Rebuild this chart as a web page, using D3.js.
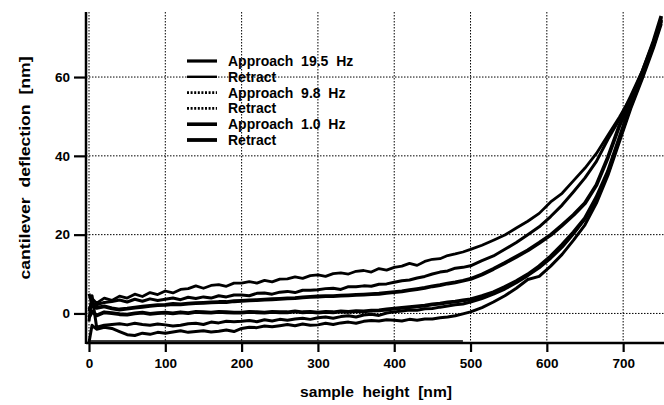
<!DOCTYPE html>
<html><head><meta charset="utf-8">
<script src="https://cdn.jsdelivr.net/npm/d3@7"></script>
<style>body{margin:0;background:#fff}svg{display:block}</style>
</head><body>
<svg id="c" width="664" height="405"></svg>
<script>
// ---- data ----
const xs = [0,4,10,20,30,40,50,60,70,80,90,100,110,120,130,140,150,160,170,180,190,200,210,220,230,240,250,260,270,280,290,300,310,320,330,340,350,360,370,380,390,400,410,420,430,440,450,460,470,480,490,500,515,530,545,560,575,590,605,620,635,650,665,680,695,710,725,740,750];

const topCurve = [0.5,3.8,2.6,3.9,3.3,4.4,3.9,4.9,4.3,5.3,4.8,5.7,5.2,6.1,6.3,7.0,6.4,7.1,7.3,6.9,7.7,7.7,8.1,7.7,8.4,8.0,8.7,8.8,9.3,8.9,9.6,9.8,9.4,10.1,10.3,10.0,10.7,10.9,10.5,11.4,11.0,11.7,12.0,12.7,12.2,13.2,13.75,13.9,14.7,15.1,15.6,16.25,17.3,18.6,19.9,21.7,23.4,25.4,28.3,30.5,33.7,36.9,40.6,45.2,49.8,54.8,61,68.5,74.5];
const secondCurve = [5.0,2.4,2.2,2.8,3.0,3.4,2.9,3.6,3.1,3.7,3.3,3.6,3.9,3.5,4.1,3.8,4.2,3.9,4.5,4.2,4.7,4.7,4.5,5.1,5.2,4.9,5.4,5.6,5.3,5.9,5.9,6.0,6.3,6.4,6.1,6.8,6.8,7.0,6.9,7.4,7.5,7.9,8.3,8.5,9.0,9.4,10.0,10.5,10.8,11.5,11.7,12.1,13.4,14.6,16.3,18.0,20.0,22.0,24.6,27.5,30.9,34.4,38.6,44.2,49.2,55.2,61.5,69,75];
const thirdCurve = [1.0,2.0,1.4,1.8,1.3,1.0,1.2,1.5,1.7,1.9,2.1,2.2,2.4,2.3,2.5,2.6,2.7,2.8,2.9,2.9,3.1,3.2,3.3,3.4,3.5,3.6,3.7,3.8,3.9,4.1,4.2,4.3,4.4,4.4,4.5,4.6,4.7,4.8,4.9,5.0,5.2,5.4,5.6,5.9,6.2,6.5,6.9,7.2,7.6,7.9,8.3,8.75,9.9,11.3,12.8,14.4,16.0,17.9,19.9,22.4,25.0,28.0,32.6,39.6,47.6,54.2,61.2,69.2,75.5];
const fourthCurve = [-1.0,0.5,-0.5,0.3,0.1,-0.2,-0.3,0.0,0.2,-0.1,0.1,0.2,0.0,0.3,0.1,0.4,0.3,0.2,0.4,0.3,0.2,0.2,0.4,0.3,0.2,0.4,0.3,0.3,0.5,0.3,0.4,0.2,0.4,0.3,0.5,0.4,0.6,0.5,0.7,0.8,1.0,1.2,1.4,1.6,1.8,2.0,2.3,2.5,2.8,3.0,3.3,3.6,4.4,5.4,6.7,8.2,9.9,12.0,14.5,17.4,20.6,24.2,29.5,36.0,44.5,53.0,60.5,68.5,74.5];
const fifthCurve = [-2.0,4.5,-3.5,-3.0,-2.8,-2.6,-2.9,-2.5,-2.8,-3.0,-2.7,-2.9,-3.2,-3.0,-2.6,-2.5,-2.8,-2.2,-2.4,-2.0,-2.1,-2.0,-1.8,-2.1,-1.6,-1.9,-1.5,-1.7,-1.4,-1.2,-1.5,-1.1,-0.9,-1.2,-0.8,-0.6,-0.9,-0.4,-0.2,-0.5,0.1,0.4,0.6,0.9,0.8,1.2,1.25,1.6,1.9,2.2,2.4,2.9,3.8,4.9,6.2,7.8,9.6,11.6,14.0,16.8,20.2,24.0,29.2,35.5,44.0,52.5,60.0,68.0,74.0];
const bottomCurve = [-7.4,-3.0,-4.0,-3.5,-3.8,-4.6,-5.4,-5.6,-5.0,-5.3,-4.8,-5.0,-4.7,-4.4,-4.8,-4.6,-4.4,-4.7,-4.5,-4.2,-4.6,-3.8,-3.5,-3.6,-3.2,-3.4,-3.1,-2.8,-3.1,-2.7,-3.0,-2.9,-2.5,-2.8,-2.4,-2.2,-2.5,-2.0,-1.8,-1.9,-1.6,-1.7,-1.9,-1.5,-1.7,-1.4,-1.4,-1.1,-0.9,-0.6,-0.1,0.4,1.5,2.9,4.5,6.4,8.6,9.4,12.0,15.0,18.6,22.5,28.0,35.0,43.5,52.0,59.5,67.5,73.5];
// off-scale retract trace lying along the lower edge of the plot
const offscaleX = [0, 490];
const offscaleY = [-7.0, -7.0];

const seriesNames = ["Approach  19.5  Hz","Retract","Approach  9.8  Hz","Retract","Approach  1.0  Hz","Retract"];
const seriesValues = [secondCurve, topCurve, fifthCurve, bottomCurve, thirdCurve, fourthCurve];
const seriesWidths = [3.0, 2.8, 3.0, 3.0, 3.8, 3.8];
const legendDash = [null, null, "2,1.6", "2,1.6", null, null];
const legendWidths = [3.2, 2.4, 2.8, 2.8, 3.6, 3.8];

const xTicks = [0,100,200,300,400,500,600,700];
const yTicks = [0,20,40,60];

// ---- chart ----
const svg = d3.select("#c");
const x = d3.scaleLinear().domain([0,750]).range([89,661.3]);
const y = d3.scaleLinear().domain([-7.5,76]).range([343,14]);
const font = "'Liberation Sans', Arial, Helvetica, sans-serif";

svg.append("defs").append("clipPath").attr("id","pc")
  .append("rect").attr("x",86).attr("y",12).attr("width",578).attr("height",331);

// grid
const grid = svg.append("g").attr("stroke","#000").attr("stroke-width",1).attr("stroke-dasharray","1.5,1.5");
grid.selectAll("line.v").data(xTicks).join("line").attr("class","v")
  .attr("x1",d=>x(d)).attr("x2",d=>x(d)).attr("y1",12).attr("y2",343);
grid.selectAll("line.h").data(yTicks).join("line").attr("class","h")
  .attr("x1",86).attr("x2",664).attr("y1",d=>y(d)).attr("y2",d=>y(d));

// curves
const line = d3.line().x((d,i)=>x(xs[i])).y(d=>y(d)).curve(d3.curveLinear);
const cg = svg.append("g").attr("clip-path","url(#pc)");
seriesValues.forEach((vals,k)=>{
  cg.append("path").datum(vals).attr("d",line).attr("fill","none")
    .attr("stroke","#000").attr("stroke-width",seriesWidths[k]).attr("stroke-linejoin","round");
});
cg.append("path").datum(offscaleY)
  .attr("d",d3.line().x((d,i)=>x(offscaleX[i])).y(d=>y(d)))
  .attr("fill","none").attr("stroke","#000").attr("stroke-width",1.6);

// axes
const xAxis = d3.axisBottom(x).tickValues(xTicks).tickSize(9).tickPadding(6).tickFormat(d3.format("d"));
const gx = svg.append("g").attr("transform","translate(0,343)").call(xAxis);
gx.select(".domain").remove();
gx.append("line").attr("x1",86).attr("x2",664).attr("y1",0).attr("y2",0).attr("stroke","#000").attr("stroke-width",2.5);
gx.selectAll(".tick line").attr("stroke","#000").attr("stroke-width",2.2);
gx.selectAll(".tick text").attr("font-family",font).attr("font-weight","bold").attr("font-size",13.5).attr("fill","#000");

const yAxis = d3.axisLeft(y).tickValues(yTicks).tickSize(12).tickPadding(4).tickFormat(d3.format("d"));
const gy = svg.append("g").attr("transform","translate(86,0)").call(yAxis);
gy.select(".domain").remove();
gy.append("line").attr("x1",0).attr("x2",0).attr("y1",12).attr("y2",344).attr("stroke","#000").attr("stroke-width",2.5);
gy.selectAll(".tick line").attr("stroke","#000").attr("stroke-width",2.2);
gy.selectAll(".tick text").attr("font-family",font).attr("font-weight","bold").attr("font-size",13.5).attr("fill","#000");

// axis titles
svg.append("text").attr("x",376).attr("y",397).attr("text-anchor","middle")
  .attr("font-family",font).attr("font-weight","bold").attr("font-size",15)
  .attr("textLength",152).attr("lengthAdjust","spacingAndGlyphs").style("white-space","pre")
  .text("sample  height  [nm]");
svg.append("text").attr("transform","translate(30,168) rotate(-90)").attr("text-anchor","middle")
  .attr("font-family",font).attr("font-weight","bold").attr("font-size",15)
  .attr("textLength",223).attr("lengthAdjust","spacingAndGlyphs").style("white-space","pre")
  .text("cantilever  deflection  [nm]");

// legend
const leg = svg.append("g");
seriesNames.forEach((name,k)=>{
  const yy = 61 + k*15.8;
  leg.append("line").attr("x1",187).attr("x2",217).attr("y1",yy).attr("y2",yy)
    .attr("stroke","#000").attr("stroke-width",legendWidths[k])
    .attr("stroke-dasharray",legendDash[k]);
  leg.append("text").attr("x",228).attr("y",yy+5).attr("font-family",font)
    .attr("font-weight","bold").attr("font-size",14).style("white-space","pre").text(name);
});
</script>
</body></html>
